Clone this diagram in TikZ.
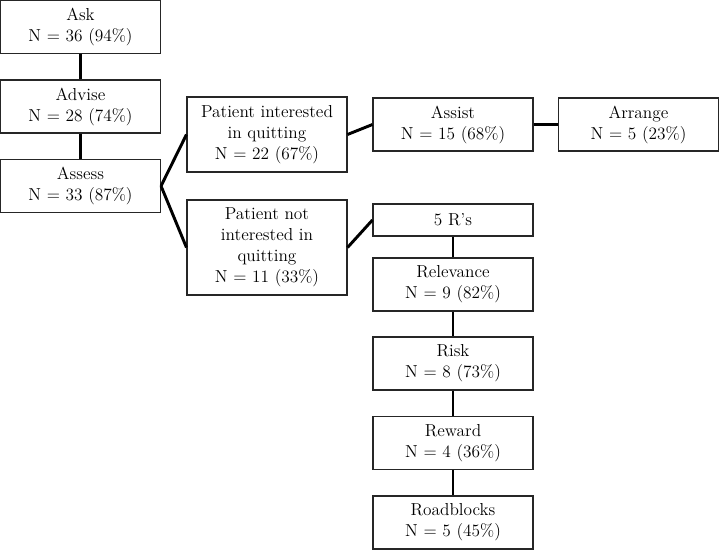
\documentclass[tikz,border=0pt]{standalone}
\usepackage{tikz}

\begin{document}
\begin{tikzpicture}[x=0.75pt,y=0.75pt,yscale=-1,xscale=1,
  box/.style={draw=black!85,line width=0.8pt,fill=white,inner sep=0pt,align=center,
    minimum width=120pt,minimum height=39.75pt,font=\fontsize{13}{15.75}\selectfont},
  link/.style={line width=2.2pt,black}]
\useasboundingbox (0,0) rectangle (719,550);

% Left column
\node [box] (ask) at (80.5,27) {Ask\\N = 36 (94\%)};
\node [box] (advise) at (80.5,106.5) {Advise\\N = 28 (74\%)};
\node [box] (assess) at (80.5,186) {Assess\\N = 33 (87\%)};
% Interest
\node [box,minimum height=56.25pt] (interested) at (267,134.5) {Patient interested\\in quitting\\N = 22 (67\%)};
\node [box,minimum height=71.25pt] (notinterested) at (267,247.5) {Patient not\\interested in\\quitting\\N = 11 (33\%)};
% Top right
\node [box] (assist) at (453,124.5) {Assist\\N = 15 (68\%)};
\node [box] (arrange) at (638.5,124.5) {Arrange\\N = 5 (23\%)};
% 5 R's column
\node [box,minimum height=24pt] (fiver) at (453,220) {5 R's};
\node [box] (relevance) at (453,284.5) {Relevance\\N = 9 (82\%)};
\node [box] (risk) at (453,363.5) {Risk\\N = 8 (73\%)};
\node [box] (reward) at (453,443) {Reward\\N = 4 (36\%)};
\node [box] (roadblocks) at (453,522.5) {Roadblocks\\N = 5 (45\%)};

% Connectors
\draw [link] (ask) -- (advise);
\draw [link] (advise) -- (assess);
\draw [link] (assess.east) -- (interested.west);
\draw [link] (assess.east) -- (notinterested.west);
\draw [link] (interested.east) -- (assist.west);
\draw [link] (assist) -- (arrange);
\draw [link] (notinterested.east) -- (fiver.west);
\draw [link] (fiver) -- (relevance);
\draw [link] (relevance) -- (risk);
\draw [link] (risk) -- (reward);
\draw [link] (reward) -- (roadblocks);
\end{tikzpicture}
\end{document}
